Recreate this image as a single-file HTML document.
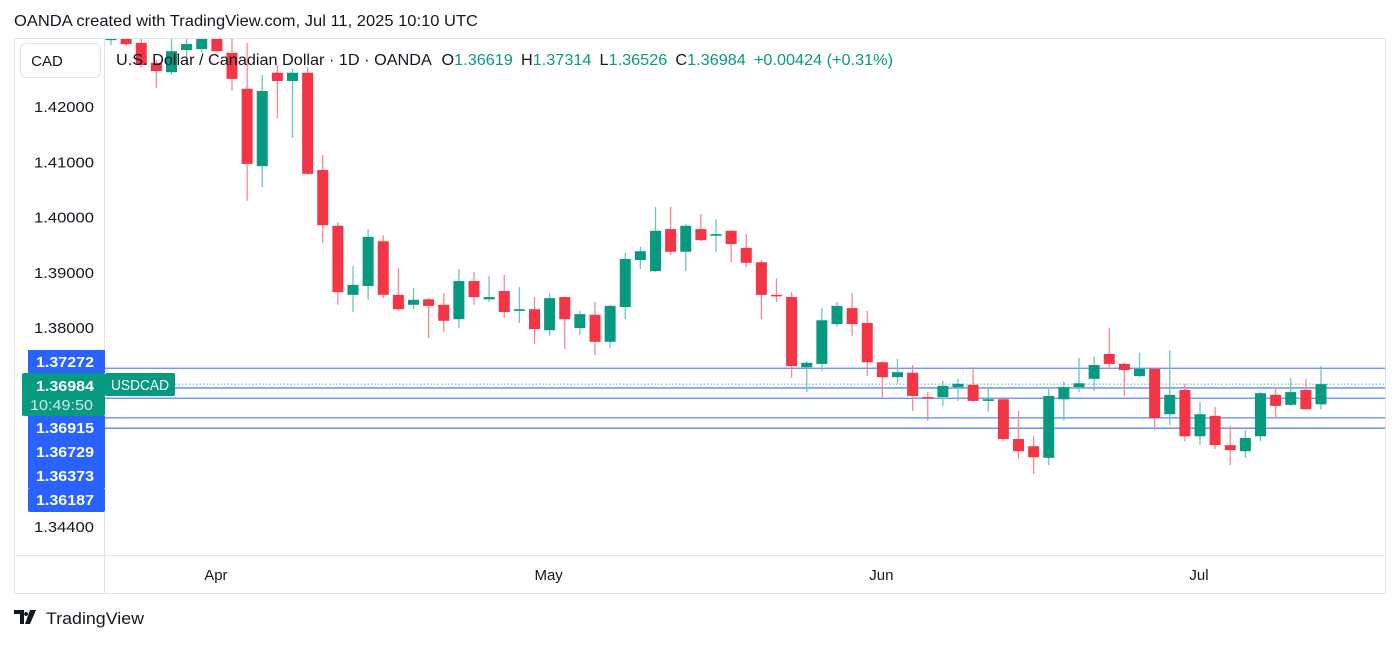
<!DOCTYPE html>
<html><head><meta charset="utf-8"><style>
body{margin:0;background:#fff;width:1400px;height:642px;overflow:hidden;font-family:"Liberation Sans",sans-serif}
svg text{font-family:"Liberation Sans","DejaVu Sans",sans-serif}
</style></head><body>
<svg id="chart" width="1400" height="642" xmlns="http://www.w3.org/2000/svg">
<text x="14" y="26" font-size="16" fill="#131722" textLength="464" lengthAdjust="spacingAndGlyphs">OANDA created with TradingView.com, Jul 11, 2025 10:10 UTC</text>
<rect x="14.5" y="38.5" width="1371" height="555" fill="none" stroke="#e0e3eb"/>
<line x1="104.5" y1="38" x2="104.5" y2="593" stroke="#e0e3eb"/>
<line x1="14" y1="555.5" x2="1386" y2="555.5" stroke="#e0e3eb"/>
<defs><clipPath id="plot"><rect x="105" y="39" width="1280" height="516"/></clipPath></defs>
<g id="levels" clip-path="url(#plot)"></g>
<g id="candles" clip-path="url(#plot)"></g>
<g id="yaxis"></g>
<g id="xaxis"></g>
<g id="tags"></g>
<rect x="20.5" y="43.5" width="80" height="34" rx="6" fill="#fff" stroke="#e0e3eb"/>
<text x="47" y="66" font-size="15" fill="#131722" text-anchor="middle">CAD</text>
<text x="116" y="65" font-size="16" fill="#131722" textLength="777" lengthAdjust="spacingAndGlyphs">U.S. Dollar / Canadian Dollar · 1D · OANDA <tspan dx="6">O</tspan><tspan fill="#089981">1.36619</tspan><tspan dx="8">H</tspan><tspan fill="#089981">1.37314</tspan><tspan dx="8">L</tspan><tspan fill="#089981">1.36526</tspan><tspan dx="8">C</tspan><tspan fill="#089981">1.36984</tspan><tspan fill="#089981" dx="8">+0.00424 (+0.31%)</tspan></text>
<g>
<path d="M14 610h10v14h-4v-10h-6z M26 612a2 2 0 1 0 0.1 0z M30 610h6l-6 14h-5z" fill="#131722"/>
<text x="46" y="624" font-size="17" fill="#131722" textLength="98" lengthAdjust="spacingAndGlyphs">TradingView</text>
</g>
</svg>
<script>
const NS='http://www.w3.org/2000/svg';
const opens=[1.4321,1.4329,1.4316,1.4280,1.4263,1.4303,1.4305,1.4332,1.4298,1.4233,1.4093,1.4262,1.4247,1.4262,1.4086,1.3985,1.3860,1.3876,1.3957,1.3860,1.3842,1.3852,1.3842,1.3816,1.3885,1.3852,1.3867,1.3831,1.3834,1.3796,1.3856,1.3800,1.3824,1.3775,1.3838,1.3923,1.3903,1.3979,1.3938,1.3979,1.3967,1.3976,1.3945,1.3919,1.3860,1.3856,1.3729,1.3735,1.3807,1.3836,1.3809,1.3738,1.3711,1.3719,1.3675,1.3675,1.3693,1.3697,1.3668,1.3671,1.3599,1.3586,1.3565,1.3671,1.3693,1.3708,1.3753,1.3735,1.3713,1.3726,1.3644,1.3688,1.3604,1.3641,1.3588,1.3577,1.3604,1.3679,1.3661,1.3688,1.36619];
const highs=[1.4339,1.4339,1.4329,1.4285,1.4329,1.4329,1.4339,1.4339,1.4329,1.4316,1.4258,1.4276,1.4269,1.4272,1.4113,1.3992,1.3912,1.3979,1.3968,1.3909,1.3872,1.3854,1.3863,1.3907,1.3901,1.3894,1.3896,1.3874,1.3856,1.3863,1.3857,1.3831,1.3847,1.3842,1.3936,1.3947,1.4019,1.4019,1.3988,1.4006,1.3997,1.3977,1.3970,1.3923,1.3890,1.3865,1.3740,1.3836,1.3847,1.3863,1.3831,1.3740,1.3744,1.3733,1.3684,1.3704,1.3708,1.3729,1.3690,1.3675,1.3650,1.3604,1.3693,1.3704,1.3746,1.3748,1.3800,1.3738,1.3755,1.3728,1.3760,1.3699,1.3666,1.3657,1.3623,1.3615,1.3684,1.3693,1.3710,1.3708,1.37314];
const lows=[1.4312,1.4310,1.4271,1.4234,1.4258,1.4276,1.4298,1.4300,1.4229,1.4030,1.4055,1.4180,1.4144,1.4077,1.3954,1.3842,1.3829,1.3851,1.3854,1.3831,1.3834,1.3782,1.3793,1.3800,1.3842,1.3847,1.3818,1.3809,1.3771,1.3786,1.3762,1.3787,1.3751,1.3764,1.3816,1.3907,1.3901,1.3932,1.3903,1.3957,1.3938,1.3919,1.3910,1.3816,1.3847,1.3710,1.3684,1.3722,1.3802,1.3786,1.3713,1.3675,1.3700,1.3650,1.3632,1.3659,1.3668,1.3666,1.3648,1.3595,1.3563,1.3536,1.3552,1.3632,1.3684,1.3686,1.3726,1.3677,1.3711,1.3615,1.3624,1.3595,1.3588,1.3581,1.3552,1.3565,1.3595,1.3637,1.3659,1.3652,1.36526];
const closes=[1.4329,1.4314,1.4276,1.4265,1.4301,1.4314,1.4329,1.4301,1.4251,1.4097,1.4229,1.4247,1.4262,1.4079,1.3986,1.3865,1.3878,1.3965,1.3860,1.3834,1.3851,1.3840,1.3813,1.3885,1.3856,1.3856,1.3829,1.3834,1.3798,1.3854,1.3816,1.3825,1.3775,1.3840,1.3925,1.3939,1.3976,1.3938,1.3985,1.3959,1.3970,1.3952,1.3918,1.3860,1.3858,1.3731,1.3737,1.3814,1.3840,1.3807,1.3738,1.3711,1.3720,1.3677,1.3673,1.3695,1.3699,1.3668,1.3671,1.3599,1.3577,1.3566,1.3677,1.3693,1.3700,1.3733,1.3735,1.3724,1.3726,1.3637,1.3679,1.3604,1.3644,1.3588,1.3579,1.3601,1.3682,1.3659,1.3684,1.3653,1.36984];
const yTicks=[1.42,1.41,1.40,1.39,1.38,1.344];
const yTickLabels=['1.42000','1.41000','1.40000','1.39000','1.38000','1.34400'];
const monthLabels=['Apr','May','Jun','Jul'];
const monthIndex=[7,29,51,72];
const levelPrices=[1.37272,1.36915,1.36729,1.36373,1.36187];
const tagLabels=['1.37272','1.36915','1.36729','1.36373','1.36187'];
const lastPrice=1.36984;
const countdown='10:49:50';
function y(p){return 107+(1.42-p)*5525;}
function x(i){return 111+i*15.125;}
function mk(t,a,parent){const e=document.createElementNS(NS,t);for(const k in a)e.setAttribute(k,a[k]);parent.appendChild(e);return e;}
const cg=document.getElementById('candles');
for(let i=0;i<opens.length;i++){
  const up=closes[i]>=opens[i];const col=up?'#089981':'#f23645';
  const g=mk('g',{},cg);
  
  
  mk('line',{x1:x(i),x2:x(i),y1:y(highs[i]),y2:y(lows[i]),stroke:up?'#6fc6b5':'#f7888f','stroke-width':1.3},g);
  const t=Math.min(y(opens[i]),y(closes[i]));const h=Math.max(1.5,Math.abs(y(opens[i])-y(closes[i])));
  mk('rect',{x:x(i)-5.5,y:t,width:11,height:h,fill:col},g);
}
const lg=document.getElementById('levels');
levelPrices.forEach((p,k)=>{const l=mk('line',{x1:105,x2:1386,y1:y(p),y2:y(p),stroke:'#5b86f5','stroke-width':1.3},lg);
  
  });
const cl=mk('line',{x1:175,x2:1386,y1:y(lastPrice),y2:y(lastPrice),stroke:'#089981','stroke-width':1,'stroke-dasharray':'1.5 2',opacity:0.7},lg);


const ya=document.getElementById('yaxis');
yTicks.forEach((p,k)=>{const t=mk('text',{x:34,y:y(p)+5,'font-size':15,fill:'#131722',textLength:60,lengthAdjust:'spacingAndGlyphs'},ya);t.textContent=yTickLabels[k];
  
  });
const xa=document.getElementById('xaxis');
monthLabels.forEach((m,k)=>{const t=mk('text',{x:x(monthIndex[k])-1,y:580,'font-size':15,fill:'#131722','text-anchor':'middle'},xa);t.textContent=m;
  
  });
const tg=document.getElementById('tags');
const tagTops=[350,416,440,464,488];
tagLabels.forEach((s,k)=>{const g=mk('g',{},tg);
  
  
  mk('rect',{x:28,y:tagTops[k],width:77,height:k==0?23:24,fill:'#2962ff',rx:k==4?2:0},g);
  const t=mk('text',{x:36,y:tagTops[k]+17,'font-size':15,fill:'#fff','font-weight':'bold',textLength:58,lengthAdjust:'spacingAndGlyphs'},g);t.textContent=s;});
const lt=mk('g',{},tg);


mk('rect',{x:22,y:373,width:83,height:43,fill:'#089981',rx:2},lt);
const t1=mk('text',{x:36,y:391,'font-size':15,fill:'#fff','font-weight':'bold',textLength:58,lengthAdjust:'spacingAndGlyphs'},lt);t1.textContent=lastPrice.toFixed(5);
const t2=mk('text',{x:30,y:410,'font-size':15,fill:'#cdeee6',textLength:63,lengthAdjust:'spacingAndGlyphs'},lt);t2.textContent=countdown;
const sl=mk('g',{},tg);


mk('rect',{x:105,y:373,width:70,height:23,fill:'#089981',rx:2},sl);
const t3=mk('text',{x:111,y:390,'font-size':15,fill:'#fff',textLength:58,lengthAdjust:'spacingAndGlyphs'},sl);t3.textContent='USDCAD';
</script>
</body></html>
